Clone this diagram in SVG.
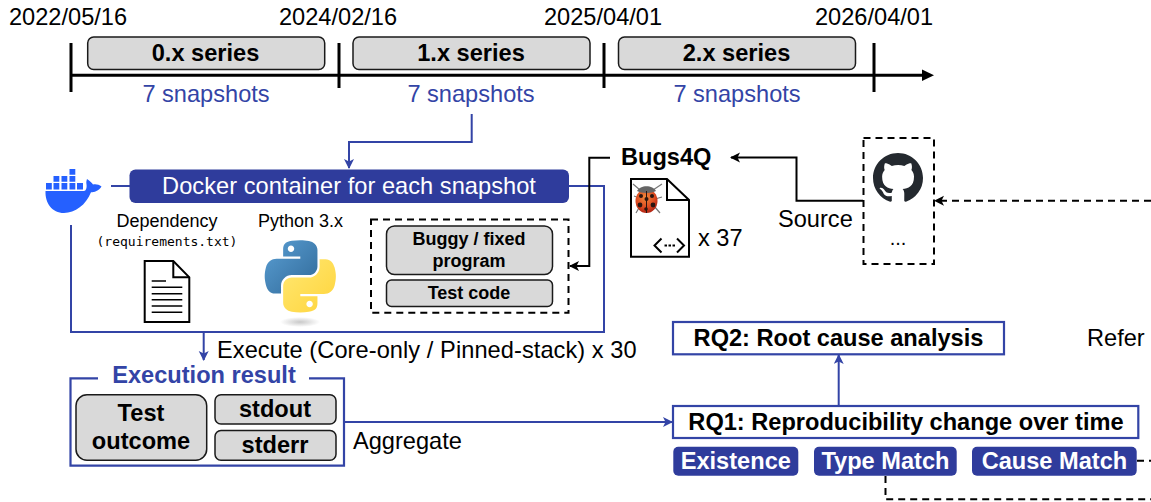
<svg xmlns="http://www.w3.org/2000/svg" width="1151" height="502" viewBox="0 0 1151 502">
<style>
text{font-family:"Liberation Sans",Arial,Helvetica,sans-serif;fill:#000;font-size:23.6px}
.b{font-weight:700}
.m{text-anchor:middle}
.blue{fill:#3344a6}
.w{fill:#fff}
.s{font-size:18px}
.g{fill:#d9d9d9;stroke:#1a1a1a;stroke-width:1.5}
.chip{fill:#2f3c9c}
.rq{fill:#fff;stroke:#3344a6;stroke-width:2.2}
.bl{fill:none;stroke:#3344a6;stroke-width:2}
.k{fill:none;stroke:#000;stroke-width:2}
.t{fill:none;stroke:#000;stroke-width:1.600}
.d{fill:none;stroke:#000;stroke-width:2;stroke-dasharray:7 5}
.ax{fill:none;stroke:#000;stroke-width:3}
.doc{fill:#fff;stroke:#000;stroke-width:2}
</style>
<defs>
<marker id="ab" markerUnits="userSpaceOnUse" markerWidth="12" markerHeight="12" refX="9" refY="5" orient="auto"><path d="M0 0L10 5L0 10L2.500 5Z" fill="#3344a6"/></marker>
<marker id="ak" markerUnits="userSpaceOnUse" markerWidth="12" markerHeight="12" refX="9" refY="5" orient="auto"><path d="M0 0L10 5L0 10L2.500 5Z" fill="#000"/></marker>
<linearGradient id="py1" x1="0" y1="0" x2="1" y2="1"><stop offset="0" stop-color="#5a9fd4"/><stop offset="1" stop-color="#306998"/></linearGradient>
<linearGradient id="py2" x1="0" y1="0" x2="1" y2="1"><stop offset="0" stop-color="#ffd43b"/><stop offset="1" stop-color="#ffe873"/></linearGradient>
<radialGradient id="lady" cx=".45" cy=".35" r=".7"><stop offset="0" stop-color="#f08a3c"/><stop offset=".6" stop-color="#dc4a20"/><stop offset="1" stop-color="#a81c10"/></radialGradient>
<radialGradient id="shadow"><stop offset="0" stop-color="#bbb" stop-opacity=".8"/><stop offset="1" stop-color="#bbb" stop-opacity="0"/></radialGradient>
</defs>

<g id="timeline">
<text x="9" y="25">2022/05/16</text>
<text x="279" y="25">2024/02/16</text>
<text x="544" y="25">2025/04/01</text>
<text x="815" y="25">2026/04/01</text>
<path class="ax" d="M71 43V92M339 43V88M604 43V88M874 43V92M71 75.300H924"/>
<path d="M922 69.500L934 75.300L922 81Z" fill="#000"/>
<text class="blue m" x="206" y="102">7 snapshots</text>
<text class="blue m" x="471" y="102">7 snapshots</text>
<text class="blue m" x="737" y="102">7 snapshots</text>
</g>
<g id="series-0"><rect class="g" x="87.700" y="37" width="237" height="32.500" rx="6"/><text class="b m" x="205.500" y="61">0.x series</text></g>
<g id="series-1"><rect class="g" x="353" y="37" width="237" height="32.500" rx="6"/><text class="b m" x="471" y="61">1.x series</text></g>
<g id="series-2"><rect class="g" x="618.500" y="37" width="237" height="32.500" rx="6"/><text class="b m" x="736.500" y="61">2.x series</text></g>

<g id="connectors">
<path class="bl" d="M471.700 114V142H349V168" marker-end="url(#ab)"/>
<path class="bl" d="M111 186H130"/>
<path class="bl" d="M568 186H604V332H71V225"/>
<path class="bl" d="M203.700 332V360" marker-end="url(#ab)"/>
<path class="bl" d="M344 422H672" marker-end="url(#ab)"/>
<path class="bl" d="M838.700 406V355" marker-end="url(#ab)"/>
<path class="k" d="M610 157.700H589.300V266H570" marker-end="url(#ak)"/>
<path class="k" d="M863 200.700H796.500V157.500H731" marker-end="url(#ak)"/>
<path class="d" d="M1151 200.700H935" marker-end="url(#ak)"/>
<path class="d" d="M1137 460.700H1151"/>
<path class="d" d="M885.500 476V499.300H1151"/>
</g>

<g id="docker-icon" fill="#2560ff">
<path d="M45.500 191H84C86 191 87 188 86.500 184.500C86 182 86.500 180.500 87 179C90 181 92 183 93 184.500C96 184 99 184.500 101.500 186.500C99 191 94 192.300 91 192.300C86 205 75 213 64 213C52 213 45 203 45.500 191Z"/>
<path d="M69.500 169h5.800v5.800h-5.800zM53.500 176h5.800v5.800h-5.800zM61.500 176h5.800v5.800h-5.800zM69.500 176h5.800v5.800h-5.800zM46 183h5.800v6.500h-5.800zM53.500 183h5.800v6.500h-5.800zM61.500 183h5.800v6.500h-5.800zM69.500 183h5.800v6.500h-5.800zM77 183h6v6.500h-6z"/>
</g>
<g id="docker-container"><rect class="chip" x="129.500" y="169.500" width="439.500" height="33.500" rx="6"/><text class="w m" x="349" y="193.500" style="letter-spacing:.04px">Docker container for each snapshot</text></g>

<g id="dependency">
<text class="s m" x="167" y="227">Dependency</text>
<text x="167" y="245.700" text-anchor="middle" style="font-family:'DejaVu Sans Mono','Liberation Mono',monospace;font-size:13px">(requirements.txt)</text>
<path class="doc" d="M144.700 261H173.300L189.300 277.300V322H144.700Z"/>
<path class="k" d="M173.300 261V277.300H189.300"/>
<path class="t" d="M151.700 281H166M151.700 287.300H182.300M151.700 293.700H182.300M151.700 299.700H182.300M151.700 306H182.300M151.700 312.300H182.300"/>
</g>

<g id="python">
<text class="s m" x="300.500" y="227">Python 3.x</text>
<ellipse cx="300" cy="322" rx="20" ry="5" fill="url(#shadow)"/>
<g transform="translate(264 240) scale(.66)">
<path fill="url(#py1)" fill-rule="evenodd" d="M54.900.2C50.300.2 46 .6 42.200 1.300C31 3.300 29 7.400 29 15V25H55V28.400H19.200C11.600 28.400 5 32.900 2.900 41.600C.5 51.500.4 57.700 2.900 68C4.800 75.700 9.200 81.200 16.800 81.200H25.800V69.300C25.800 60.700 33.200 53.200 42.100 53.200H68C75.200 53.200 81 47.200 81 40V15C81 7.900 75 2.600 68 1.400C63.500.6 59.600.2 54.900.2ZM40.900 8.200C43.600 8.200 45.800 10.400 45.800 13.100C45.800 15.800 43.600 18 40.900 18C38.200 18 36 15.800 36 13.100C36 10.400 38.200 8.200 40.900 8.200Z"/>
<path fill="url(#py2)" fill-rule="evenodd" transform="rotate(180 55 55.100)" d="M54.900.2C50.300.2 46 .6 42.200 1.300C31 3.300 29 7.400 29 15V25H55V28.400H19.200C11.600 28.400 5 32.900 2.900 41.600C.5 51.500.4 57.700 2.900 68C4.800 75.700 9.200 81.200 16.800 81.200H25.800V69.300C25.800 60.700 33.200 53.200 42.100 53.200H68C75.200 53.200 81 47.200 81 40V15C81 7.900 75 2.600 68 1.400C63.500.6 59.600.2 54.900.2ZM40.900 8.200C43.600 8.200 45.800 10.400 45.800 13.100C45.800 15.800 43.600 18 40.900 18C38.200 18 36 15.800 36 13.100C36 10.400 38.200 8.200 40.900 8.200Z"/>
</g>
</g>

<g id="program-group">
<rect class="d" x="371" y="219.500" width="197.500" height="93.300"/>
<rect class="g" x="386.500" y="226" width="166" height="48.500" rx="8"/>
<text class="b m s" x="469" y="245">Buggy / fixed</text>
<text class="b m s" x="469" y="266.700">program</text>
<rect class="g" x="386.500" y="280" width="166" height="26.500" rx="5"/>
<text class="b m s" x="469" y="299">Test code</text>
</g>

<g id="bugs4q">
<text class="b" x="621" y="165">Bugs4Q</text>
<path class="doc" d="M631 179H667L689 200V256.700H631Z"/>
<path class="k" d="M667 179V200H689"/>
<path class="k" d="M661.500 238.500L654.500 245.500L661.500 252.500M677 238.500L684 245.500L677 252.500"/>
<path d="M664.500 245.500h2.500M668.500 245.500h2.500M672.500 245.500h2.500" stroke="#000" stroke-width="2"/>
<g stroke="#777" stroke-width="1.200" fill="none"><path d="M633 184L640 190M662 184L653 190M634 196L639 198M662 197L655 199M636 213L640 206M660 213L654 206"/></g>
<ellipse cx="646.500" cy="201" rx="11" ry="12" fill="url(#lady)"/>
<path d="M637 191C640 184.500 653 184.500 656 191C652 193.500 641 193.500 637 191Z" fill="#666"/>
<path d="M646.500 191V213" stroke="#2a1510" stroke-width="1"/>
<g fill="#2a1510"><circle cx="641" cy="196" r="2"/><circle cx="652" cy="196" r="2"/><circle cx="646.500" cy="199" r="2"/><circle cx="640" cy="205" r="2.400"/><circle cx="653" cy="205" r="2.400"/><circle cx="646" cy="209" r="1.800"/></g>
<text x="698" y="246">x 37</text>
</g>

<text x="778" y="227" id="label-source">Source</text>

<g id="github">
<rect class="d" x="863.500" y="138" width="70.500" height="126"/>
<path transform="translate(873 153) scale(3.125)" fill="#24292f" d="M8 0C3.580 0 0 3.580 0 8c0 3.540 2.290 6.530 5.470 7.590.4.07.55-.17.55-.38 0-.19-.01-.82-.01-1.490-2.010.37-2.530-.49-2.690-.94-.09-.23-.48-.94-.82-1.130-.28-.15-.68-.52-.01-.53.63-.01 1.080.58 1.230.82.72 1.210 1.870.87 2.330.66.07-.52.28-.87.51-1.070-1.780-.2-3.640-.89-3.640-3.950 0-.87.31-1.590.82-2.150-.08-.2-.36-1.020.08-2.120 0 0 .67-.21 2.200.82.64-.18 1.320-.27 2-.27.68 0 1.360.09 2 .27 1.530-1.040 2.200-.82 2.200-.82.44 1.100.16 1.920.08 2.120.51.56.82 1.270.82 2.150 0 3.070-1.870 3.750-3.650 3.950.29.25.54.73.54 1.480 0 1.070-.01 1.930-.01 2.200 0 .21.15.46.55.38A8.013 8.013 0 0016 8c0-4.420-3.580-8-8-8z"/>
<text class="m" x="898" y="245" style="font-size:20px">...</text>
</g>

<text x="217" y="358" id="label-execute" style="letter-spacing:.07px">Execute (Core-only / Pinned-stack) x 30</text>

<g id="execution-result">
<path class="rq" style="fill:none" d="M98 378.300H70.500V465.700H344V378.300H309"/>
<text class="b blue m" x="204" y="383">Execution result</text>
<rect class="g" x="76" y="394.700" width="130.700" height="65.600" rx="11"/>
<text class="b m" x="141" y="421">Test</text>
<text class="b m" x="141" y="449">outcome</text>
<rect class="g" x="215" y="394.700" width="121" height="29.300" rx="6"/>
<text class="b m" x="275" y="417">stdout</text>
<rect class="g" x="215" y="430.500" width="121" height="29.800" rx="6"/>
<text class="b m" x="275" y="453">stderr</text>
</g>
<text x="353" y="448.500" id="label-aggregate">Aggregate</text>

<g id="rq2"><rect class="rq" x="673" y="322" width="331" height="32.300"/><text class="b m" x="838.500" y="345.700">RQ2: Root cause analysis</text></g>
<g id="rq1"><rect class="rq" x="673" y="406" width="465.300" height="32"/><text class="b m" x="906" y="429.700">RQ1: Reproducibility change over time</text></g>
<g id="chip-existence"><rect class="chip" x="673.300" y="446.700" width="125" height="29" rx="5"/><text class="b m w" x="735.800" y="468.700">Existence</text></g>
<g id="chip-type"><rect class="chip" x="814" y="446.700" width="142.700" height="29" rx="5"/><text class="b m w" x="885.400" y="468.700">Type Match</text></g>
<g id="chip-cause"><rect class="chip" x="972" y="446.700" width="164.700" height="29" rx="5"/><text class="b m w" x="1054.400" y="468.700">Cause Match</text></g>
<text x="1087" y="346" id="label-refer">Refer</text>
</svg>
